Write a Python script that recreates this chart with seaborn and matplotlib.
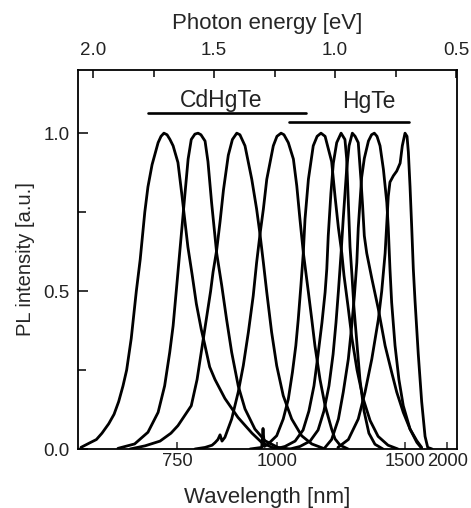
import numpy as np
import pandas as pd
import matplotlib
matplotlib.use("Agg")
import matplotlib.pyplot as plt
import seaborn as sns

# ---- data: photon energy [eV] vs normalised PL intensity ----
c1_e = [2.050, 2.012, 1.986, 1.963, 1.935, 1.913, 1.894, 1.876, 1.861, 1.842, 1.821, 1.805,
        1.786, 1.773, 1.756, 1.731, 1.719, 1.707, 1.694, 1.682, 1.669, 1.649, 1.632, 1.608,
        1.590, 1.573, 1.553, 1.538, 1.518, 1.496, 1.455, 1.401, 1.343, 1.302, 1.260, 1.207]
c1_i = [0.005, 0.02, 0.03, 0.05, 0.08, 0.11, 0.15, 0.20, 0.25, 0.35, 0.50, 0.60,
        0.75, 0.83, 0.90, 0.97, 0.99, 1.00, 0.995, 0.98, 0.96, 0.907, 0.80, 0.64,
        0.55, 0.46, 0.38, 0.33, 0.26, 0.22, 0.16, 0.10, 0.05, 0.02, 0.005, 0.0]

c2_e = [1.897, 1.828, 1.773, 1.731, 1.704, 1.683, 1.669, 1.656, 1.642, 1.628, 1.621, 1.607,
        1.594, 1.579, 1.566, 1.554, 1.537, 1.525, 1.510, 1.489, 1.468, 1.448, 1.427, 1.400,
        1.372, 1.331, 1.289, 1.236, 1.186]
c2_i = [0.002, 0.016, 0.053, 0.116, 0.20, 0.306, 0.39, 0.50, 0.62, 0.74, 0.80, 0.918,
        0.98, 0.997, 1.00, 0.995, 0.975, 0.91, 0.78, 0.62, 0.517, 0.41, 0.306, 0.20,
        0.127, 0.063, 0.026, 0.005, 0.0]

c3_e = [1.847, 1.785, 1.723, 1.678, 1.649, 1.594, 1.570, 1.544, 1.514, 1.504, 1.489, 1.475,
        1.461, 1.441, 1.424, 1.406, 1.393, 1.372, 1.344, 1.324, 1.310, 1.296, 1.282, 1.262,
        1.241, 1.214, 1.179, 1.138, 1.096, 1.041]
c3_i = [0.0, 0.01, 0.025, 0.05, 0.074, 0.137, 0.22, 0.35, 0.50, 0.56, 0.63, 0.72,
        0.82, 0.93, 0.98, 1.00, 0.995, 0.96, 0.854, 0.76, 0.68, 0.59, 0.496, 0.37,
        0.264, 0.169, 0.095, 0.042, 0.016, 0.0]

c4_e = [1.579, 1.537, 1.508, 1.496, 1.484, 1.475, 1.467, 1.455, 1.427, 1.400, 1.379, 1.358,
        1.338, 1.324, 1.310, 1.296, 1.282, 1.255, 1.240, 1.223, 1.211, 1.193, 1.172, 1.158,
        1.145, 1.131, 1.110, 1.096, 1.083, 1.062, 1.041, 1.014, 1.000, 0.979, 0.946]
c4_i = [0.0, 0.005, 0.012, 0.02, 0.03, 0.045, 0.025, 0.037, 0.095, 0.18, 0.264, 0.37,
        0.485, 0.59, 0.68, 0.76, 0.854, 0.96, 0.99, 1.00, 0.995, 0.97, 0.918, 0.833,
        0.728, 0.622, 0.496, 0.41, 0.327, 0.22, 0.137, 0.063, 0.032, 0.012, 0.0]

c5_e = [1.351, 1.303, 1.2975, 1.292, 1.276, 1.241, 1.214, 1.193, 1.176, 1.162, 1.152, 1.141,
        1.131, 1.124, 1.110, 1.090, 1.074, 1.058, 1.041, 1.014, 1.000, 0.986, 0.972, 0.963,
        0.946, 0.930, 0.909, 0.884, 0.855, 0.822, 0.781, 0.740]
c5_i = [0.0, 0.005, 0.065, 0.008, 0.016, 0.042, 0.095, 0.158, 0.243, 0.327, 0.41, 0.517,
        0.622, 0.728, 0.854, 0.96, 0.99, 1.00, 0.99, 0.91, 0.80, 0.70, 0.62, 0.55,
        0.45, 0.35, 0.25, 0.16, 0.09, 0.04, 0.012, 0.0]

c6_e = [1.248, 1.207, 1.165, 1.132, 1.108, 1.087, 1.070, 1.054, 1.041, 1.034, 1.028, 1.017,
        1.007, 0.993, 0.975, 0.959, 0.952, 0.945, 0.938, 0.930, 0.922, 0.909, 0.897, 0.880,
        0.860, 0.835, 0.802]
c6_i = [0.0, 0.008, 0.025, 0.06, 0.12, 0.20, 0.30, 0.40, 0.496, 0.57, 0.675, 0.81,
        0.905, 0.97, 1.00, 0.98, 0.92, 0.78, 0.64, 0.55, 0.45, 0.33, 0.22, 0.12,
        0.05, 0.015, 0.0]

c7_e = [1.186, 1.145, 1.103, 1.070, 1.046, 1.025, 1.008, 0.996, 0.986, 0.975, 0.966, 0.952,
        0.942, 0.9285, 0.917, 0.904, 0.893, 0.886, 0.879, 0.869, 0.848, 0.821, 0.793, 0.766,
        0.745, 0.718, 0.690, 0.662, 0.642]
c7_i = [0.0, 0.008, 0.025, 0.06, 0.12, 0.20, 0.30, 0.40, 0.50, 0.62, 0.73, 0.885,
        0.96, 1.00, 0.99, 0.97, 0.854, 0.77, 0.675, 0.62, 0.54, 0.443, 0.327, 0.243,
        0.18, 0.116, 0.063, 0.026, 0.005]

c8_e = [1.041, 1.014, 0.986, 0.966, 0.945, 0.931, 0.920, 0.910, 0.904, 0.897, 0.890, 0.879,
        0.862, 0.849, 0.8376, 0.8265, 0.814, 0.800, 0.786, 0.780, 0.773, 0.766, 0.752, 0.736,
        0.718, 0.690, 0.662, 0.642]
c8_i = [0.005, 0.03, 0.095, 0.18, 0.285, 0.39, 0.485, 0.59, 0.70, 0.78, 0.86, 0.92,
        0.975, 0.995, 1.00, 0.99, 0.96, 0.885, 0.78, 0.70, 0.57, 0.464, 0.327, 0.22,
        0.137, 0.063, 0.021, 0.002]

c9_e = [0.988, 0.945, 0.904, 0.876, 0.848, 0.821, 0.807, 0.793, 0.785, 0.780, 0.773, 0.759,
        0.745, 0.731, 0.722, 0.7108, 0.7025, 0.697, 0.690, 0.683, 0.6765, 0.6695, 0.656, 0.642,
        0.628, 0.617, 0.599]
c9_i = [0.005, 0.03, 0.095, 0.18, 0.285, 0.41, 0.50, 0.62, 0.73, 0.80, 0.845, 0.865,
        0.88, 0.905, 0.96, 1.00, 0.99, 0.94, 0.83, 0.70, 0.57, 0.47, 0.30, 0.15,
        0.04, 0.005, 0.0]

energy_ticks = [2.0, 1.5, 1.0, 0.5]
energy_minor = [1.75, 1.25, 0.75]
wavelength_labels = ["750", "1000", "1500", "2000"]
wavelength_tick_pos = [1.653, 1.240, 0.710, 0.536]   # where the original places them
y_ticks = [0.0, 0.5, 1.0]
y_minor = [0.25, 0.75]

groups = {"CdHgTe": ((1.773, 1.120), 1.063, (1.469, 1.083)),
          "HgTe": ((1.189, 0.693), 1.034, (0.862, 1.081))}

curves = [(c1_e, c1_i), (c2_e, c2_i), (c3_e, c3_i), (c4_e, c4_i), (c5_e, c5_i),
          (c6_e, c6_i), (c7_e, c7_i), (c8_e, c8_i), (c9_e, c9_i)]
frames = []
for k, (e, i) in enumerate(curves):
    frames.append(pd.DataFrame({"energy": e, "intensity": i, "curve": k}))
df = pd.concat(frames, ignore_index=True)

sns.set_style("ticks")
plt.rcParams["font.family"] = ["Liberation Sans", "DejaVu Sans"]

fig = plt.figure(figsize=(4.71, 5.08), dpi=100)
ax = fig.add_axes([78 / 471, 1 - 449 / 508, (457 - 78) / 471, (449 - 70) / 508])

sns.lineplot(data=df, x="energy", y="intensity", units="curve", estimator=None,
             color="black", linewidth=2.0, ax=ax, legend=False)

ax.set_xlim(2.062, 0.496)
ax.set_ylim(0, 1.2)

# top axis: photon energy
ax.xaxis.tick_top()
ax.xaxis.set_label_position("top")
ax.set_xticks(energy_ticks)
ax.set_xticklabels([f"{v:.1f}" for v in energy_ticks])
ax.set_xticks(energy_minor, minor=True)
ax.set_xlabel("Photon energy [eV]", fontsize=16, labelpad=9)

ax.set_yticks(y_ticks)
ax.set_yticklabels([f"{v:.1f}" for v in y_ticks])
ax.set_yticks(y_minor, minor=True)
ax.set_ylabel("PL intensity [a.u.]", fontsize=14.5, labelpad=6)

ax.tick_params(axis="x", which="both", direction="in", top=True, bottom=False,
               labelsize=13.5, pad=8, width=1.1, color="black", labelcolor="#222222")
ax.tick_params(axis="x", which="major", length=6)
ax.tick_params(axis="x", which="minor", length=5)
ax.tick_params(axis="y", which="both", direction="in", left=True, right=False,
               labelsize=13.5, pad=6, width=1.1, color="black", labelcolor="#222222")
ax.tick_params(axis="y", which="major", length=7)
ax.tick_params(axis="y", which="minor", length=6)

# bottom axis: wavelength
sec = ax.secondary_xaxis("bottom")
sec.set_xticks(wavelength_tick_pos)
sec.set_xticklabels(wavelength_labels)
sec.tick_params(direction="in", length=5, width=1.1, labelsize=13.2, pad=3,
                labelcolor="#222222")
sec.set_xlabel("Wavelength [nm]", fontsize=16, labelpad=12)
sec.spines["bottom"].set_visible(False)

for s in ax.spines.values():
    s.set_visible(True)
    s.set_linewidth(1.3)
    s.set_color("black")

for name, ((x0, x1), ybar, (tx, ty)) in groups.items():
    ax.plot([x0, x1], [ybar, ybar], color="black", linewidth=1.9)
    ax.text(tx, ty, name, ha="center", va="baseline", fontsize=16.5, color="#222222")

fig.savefig("out.png", dpi=100)
